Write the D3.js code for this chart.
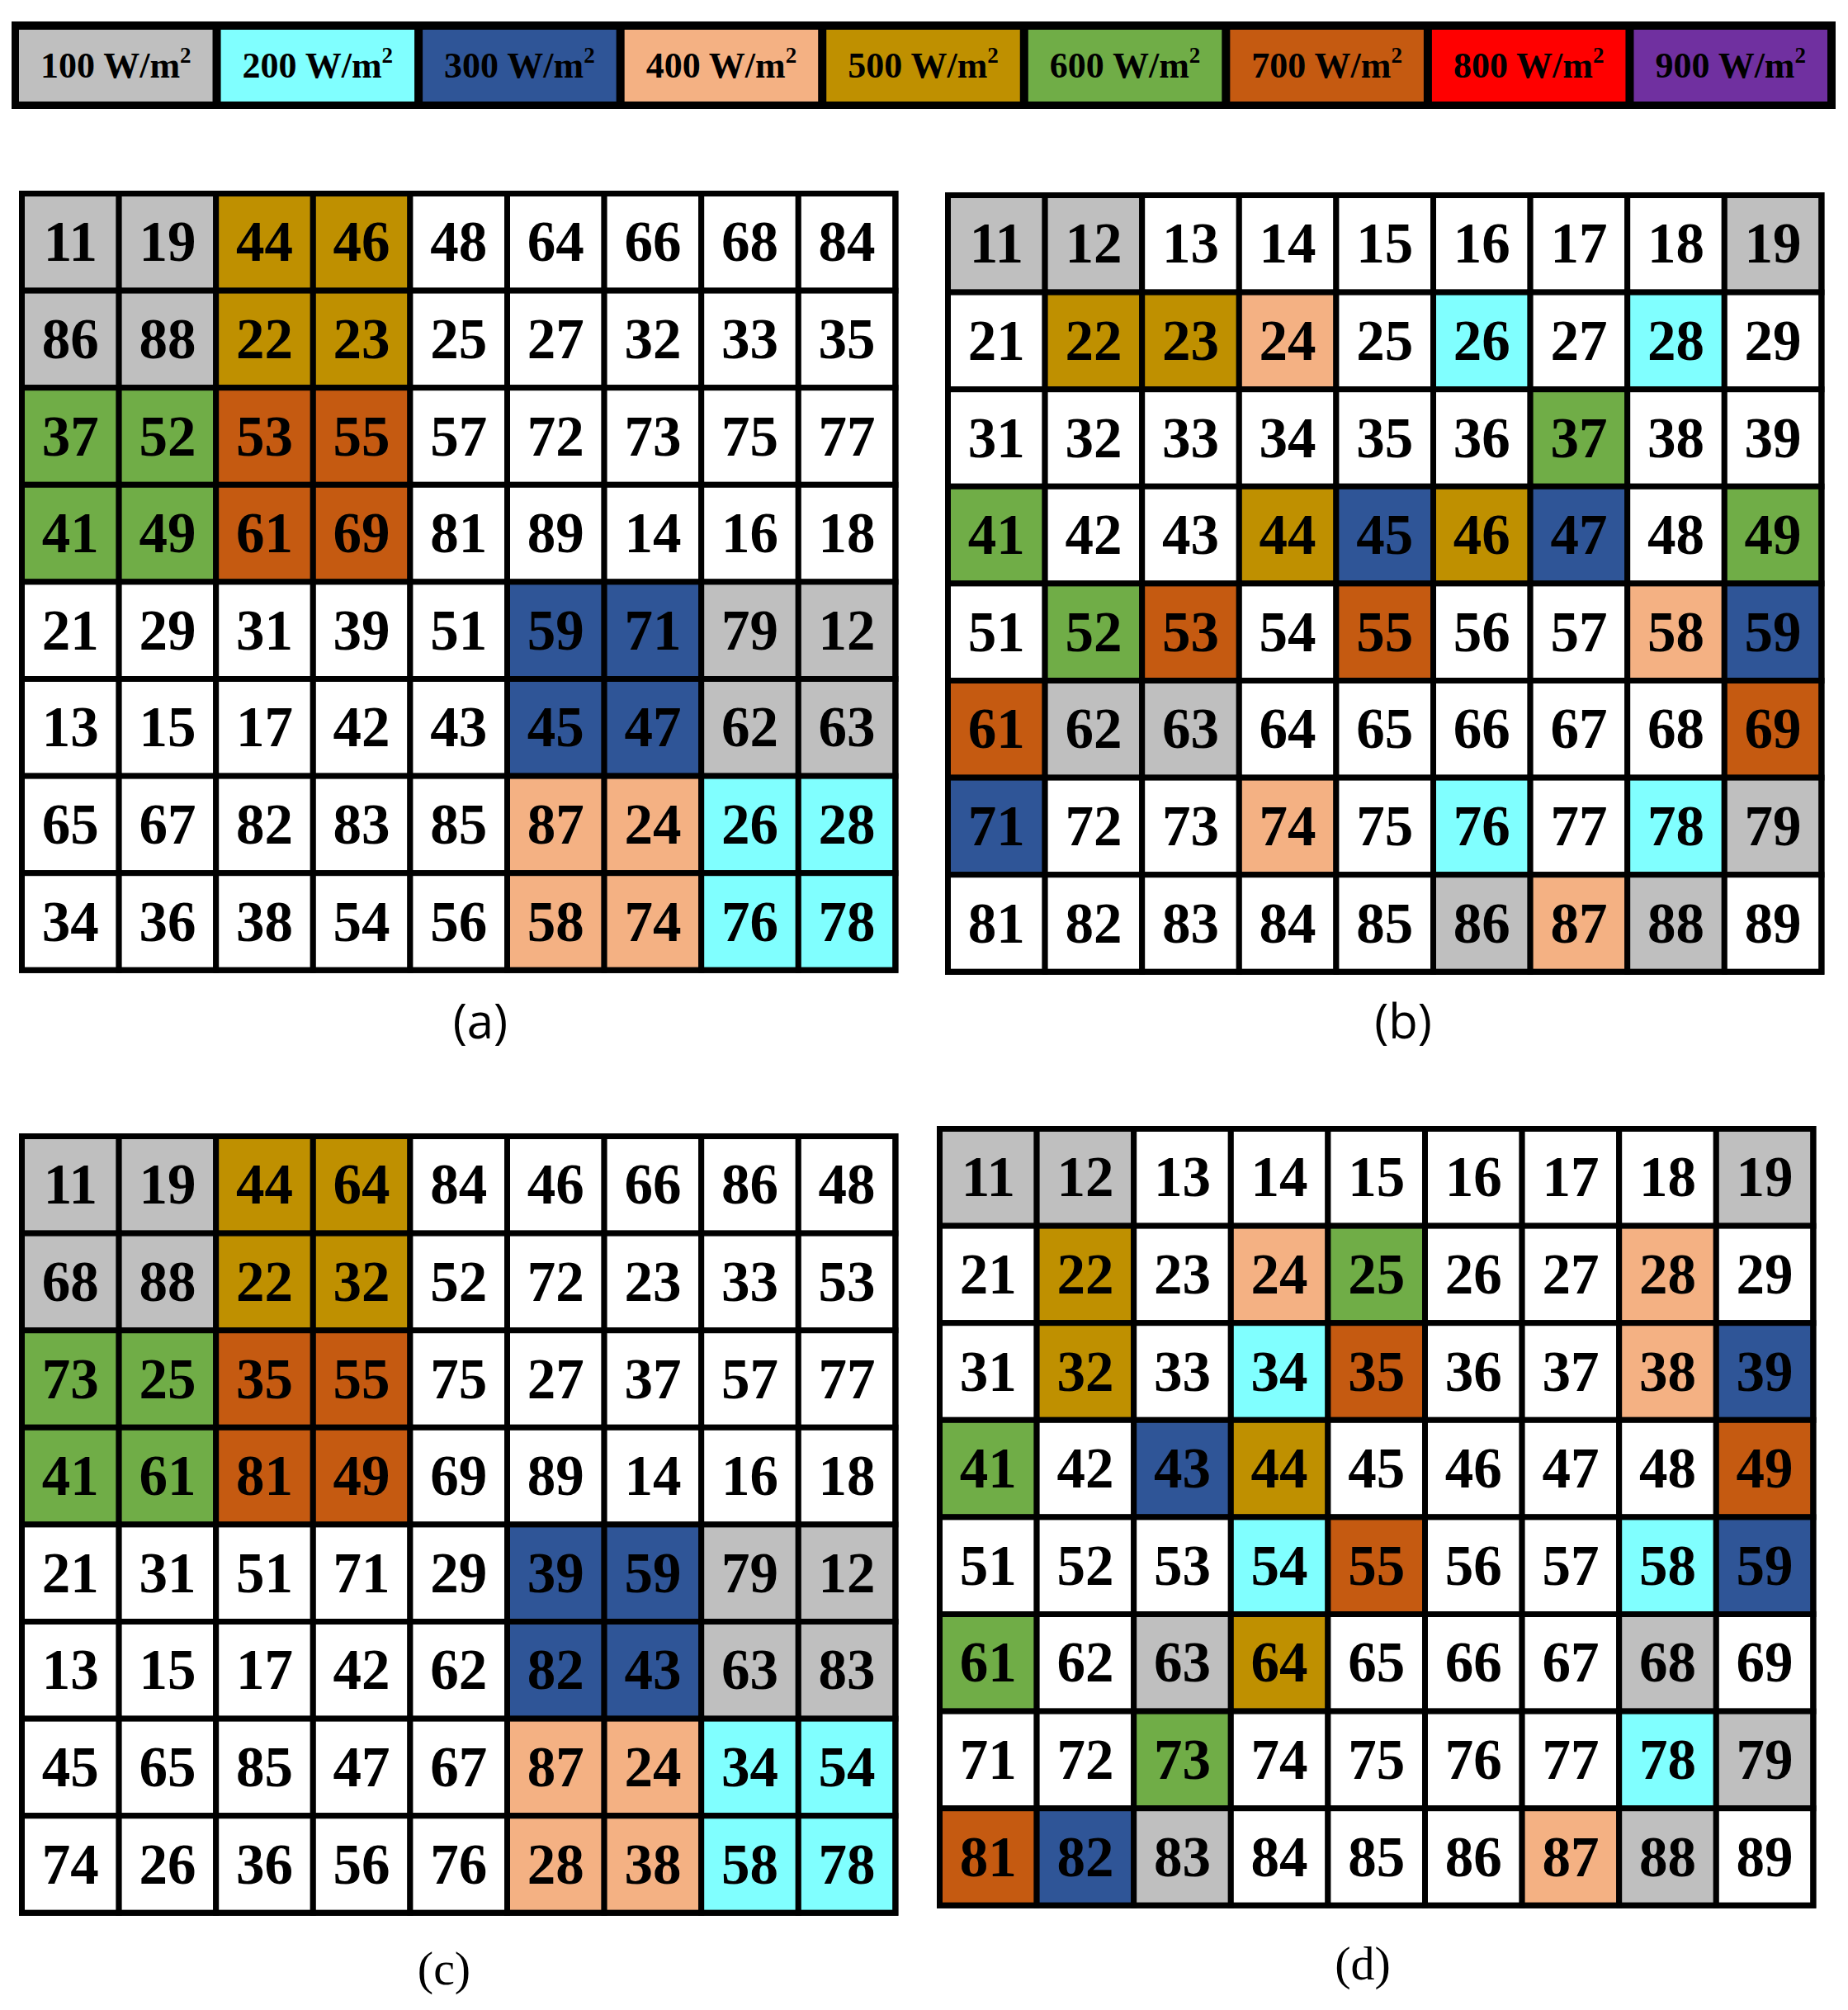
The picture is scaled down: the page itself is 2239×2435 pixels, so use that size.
<!DOCTYPE html>
<html>
<head>
<meta charset="utf-8">
<script src="https://cdn.jsdelivr.net/npm/d3@7"></script>
<style>
  body { margin: 0; background: #fff; }
  svg { display: block; }
</style>
</head>
<body>
<div id="chart"></div>
<script>
// legende : niveaux d'irradiance
const levels = ["100", "200", "300", "400", "500", "600", "700", "800", "900"];
const levelColors = ["#BFBFBF", "#80FFFF", "#2F5597", "#F4B183", "#BF9000", "#70AD47", "#C55A11", "#FF0000", "#7030A0"];

// numeros des modules (8 lignes x 9 colonnes)
const labelsA = [
  ["11", "19", "44", "46", "48", "64", "66", "68", "84"],
  ["86", "88", "22", "23", "25", "27", "32", "33", "35"],
  ["37", "52", "53", "55", "57", "72", "73", "75", "77"],
  ["41", "49", "61", "69", "81", "89", "14", "16", "18"],
  ["21", "29", "31", "39", "51", "59", "71", "79", "12"],
  ["13", "15", "17", "42", "43", "45", "47", "62", "63"],
  ["65", "67", "82", "83", "85", "87", "24", "26", "28"],
  ["34", "36", "38", "54", "56", "58", "74", "76", "78"]
];
const labelsB = [
  ["11", "12", "13", "14", "15", "16", "17", "18", "19"],
  ["21", "22", "23", "24", "25", "26", "27", "28", "29"],
  ["31", "32", "33", "34", "35", "36", "37", "38", "39"],
  ["41", "42", "43", "44", "45", "46", "47", "48", "49"],
  ["51", "52", "53", "54", "55", "56", "57", "58", "59"],
  ["61", "62", "63", "64", "65", "66", "67", "68", "69"],
  ["71", "72", "73", "74", "75", "76", "77", "78", "79"],
  ["81", "82", "83", "84", "85", "86", "87", "88", "89"]
];
const labelsC = [
  ["11", "19", "44", "64", "84", "46", "66", "86", "48"],
  ["68", "88", "22", "32", "52", "72", "23", "33", "53"],
  ["73", "25", "35", "55", "75", "27", "37", "57", "77"],
  ["41", "61", "81", "49", "69", "89", "14", "16", "18"],
  ["21", "31", "51", "71", "29", "39", "59", "79", "12"],
  ["13", "15", "17", "42", "62", "82", "43", "63", "83"],
  ["45", "65", "85", "47", "67", "87", "24", "34", "54"],
  ["74", "26", "36", "56", "76", "28", "38", "58", "78"]
];
const labelsD = labelsB;

// niveau de chaque case (0 = blanc, 1 = 100 W/m2 ... 7 = 700 W/m2)
const shadeA = [
  [1, 1, 5, 5, 0, 0, 0, 0, 0],
  [1, 1, 5, 5, 0, 0, 0, 0, 0],
  [6, 6, 7, 7, 0, 0, 0, 0, 0],
  [6, 6, 7, 7, 0, 0, 0, 0, 0],
  [0, 0, 0, 0, 0, 3, 3, 1, 1],
  [0, 0, 0, 0, 0, 3, 3, 1, 1],
  [0, 0, 0, 0, 0, 4, 4, 2, 2],
  [0, 0, 0, 0, 0, 4, 4, 2, 2]
];
const shadeB = [
  [1, 1, 0, 0, 0, 0, 0, 0, 1],
  [0, 5, 5, 4, 0, 2, 0, 2, 0],
  [0, 0, 0, 0, 0, 0, 6, 0, 0],
  [6, 0, 0, 5, 3, 5, 3, 0, 6],
  [0, 6, 7, 0, 7, 0, 0, 4, 3],
  [7, 1, 1, 0, 0, 0, 0, 0, 7],
  [3, 0, 0, 4, 0, 2, 0, 2, 1],
  [0, 0, 0, 0, 0, 1, 4, 1, 0]
];
const shadeC = shadeA;
const shadeD = [
  [1, 1, 0, 0, 0, 0, 0, 0, 1],
  [0, 5, 0, 4, 6, 0, 0, 4, 0],
  [0, 5, 0, 2, 7, 0, 0, 4, 3],
  [6, 0, 3, 5, 0, 0, 0, 0, 7],
  [0, 0, 0, 2, 7, 0, 0, 2, 3],
  [6, 0, 1, 5, 0, 0, 0, 1, 0],
  [0, 0, 6, 0, 0, 0, 0, 2, 1],
  [7, 3, 1, 0, 0, 0, 4, 1, 0]
];

const panelNames = ["(a)", "(b)", "(c)", "(d)"];

const width = 2239, height = 2435;

const svg = d3.select("#chart")
  .append("svg")
  .attr("width", width)
  .attr("height", height);

// LEGENDE
const legendX = d3.scaleBand()
  .domain(levels)
  .range([23, 2214])
  .paddingInner(0.041);

svg.append("rect")
  .attr("x", 14).attr("y", 26)
  .attr("width", 2210).attr("height", 106)
  .attr("fill", "#000");

const legendItem = svg.selectAll("g.legend")
  .data(levels)
  .join("g")
  .attr("class", "legend");

legendItem.append("rect")
  .attr("x", d => legendX(d))
  .attr("y", 36)
  .attr("width", legendX.bandwidth())
  .attr("height", 87)
  .attr("fill", (d, i) => levelColors[i]);

const legendText = legendItem.append("text")
  .attr("x", d => legendX(d) + legendX.bandwidth() / 2)
  .attr("y", 94)
  .attr("text-anchor", "middle")
  .attr("font-family", "'Liberation Serif', 'Times New Roman', serif")
  .attr("font-weight", "bold")
  .attr("font-size", 44)
  .attr("fill", "#000");
legendText.append("tspan").text(d => d + " W/m");
legendText.append("tspan")
  .attr("font-size", 27)
  .attr("dy", -18)
  .text("2");

// GRILLES
const panels = [
  { labels: labelsA, shade: shadeA, x0: 26.5, y0: 234.5, name: panelNames[0], nx: 582, ny: 1258, font: "'Open Sans', 'Noto Sans', sans-serif" },
  { labels: labelsB, shade: shadeB, x0: 1148.5, y0: 236.5, name: panelNames[1], nx: 1700, ny: 1258, font: "'Open Sans', 'Noto Sans', sans-serif" },
  { labels: labelsC, shade: shadeC, x0: 26.5, y0: 1376.5, name: panelNames[2], nx: 538, ny: 2404, font: "'Liberation Serif', 'Times New Roman', serif" },
  { labels: labelsD, shade: shadeD, x0: 1138.5, y0: 1367.5, name: panelNames[3], nx: 1651, ny: 2398, font: "'Liberation Serif', 'Times New Roman', serif" }
];

const cellSize = 117.6;
const cols = d3.range(9), rows = d3.range(8);

panels.forEach(p => drawGrid(p));

function drawGrid(p) {
  const x = d3.scaleBand().domain(cols).range([p.x0, p.x0 + cellSize * 9]);
  const y = d3.scaleBand().domain(rows).range([p.y0, p.y0 + cellSize * 8]);

  const cells = [];
  rows.forEach(r => cols.forEach(c => {
    cells.push({ r: r, c: c, label: p.labels[r][c], level: p.shade[r][c] });
  }));

  const g = svg.append("g");

  g.selectAll("rect.cell")
    .data(cells)
    .join("rect")
    .attr("class", "cell")
    .attr("x", d => x(d.c))
    .attr("y", d => y(d.r))
    .attr("width", x.bandwidth())
    .attr("height", y.bandwidth())
    .attr("fill", d => d.level ? levelColors[d.level - 1] : "#fff")
    .attr("stroke", "#000")
    .attr("stroke-width", 7);

  g.selectAll("text.num")
    .data(cells)
    .join("text")
    .attr("class", "num")
    .attr("x", d => x(d.c) + x.bandwidth() / 2)
    .attr("y", d => y(d.r) + y.bandwidth() / 2 + 23)
    .attr("text-anchor", "middle")
    .attr("font-family", "'Liberation Serif', 'Times New Roman', serif")
    .attr("font-weight", "bold")
    .attr("font-size", 69)
    .attr("fill", "#000")
    .text(d => d.label);

  g.append("rect")
    .attr("x", p.x0).attr("y", p.y0)
    .attr("width", cellSize * 9).attr("height", cellSize * 8)
    .attr("fill", "none")
    .attr("stroke", "#000")
    .attr("stroke-width", 7);

  svg.append("text")
    .attr("x", p.nx).attr("y", p.ny)
    .attr("text-anchor", "middle")
    .attr("font-family", p.font)
    .attr("font-size", 58)
    .attr("fill", "#000")
    .text(p.name);
}
</script>
</body>
</html>
